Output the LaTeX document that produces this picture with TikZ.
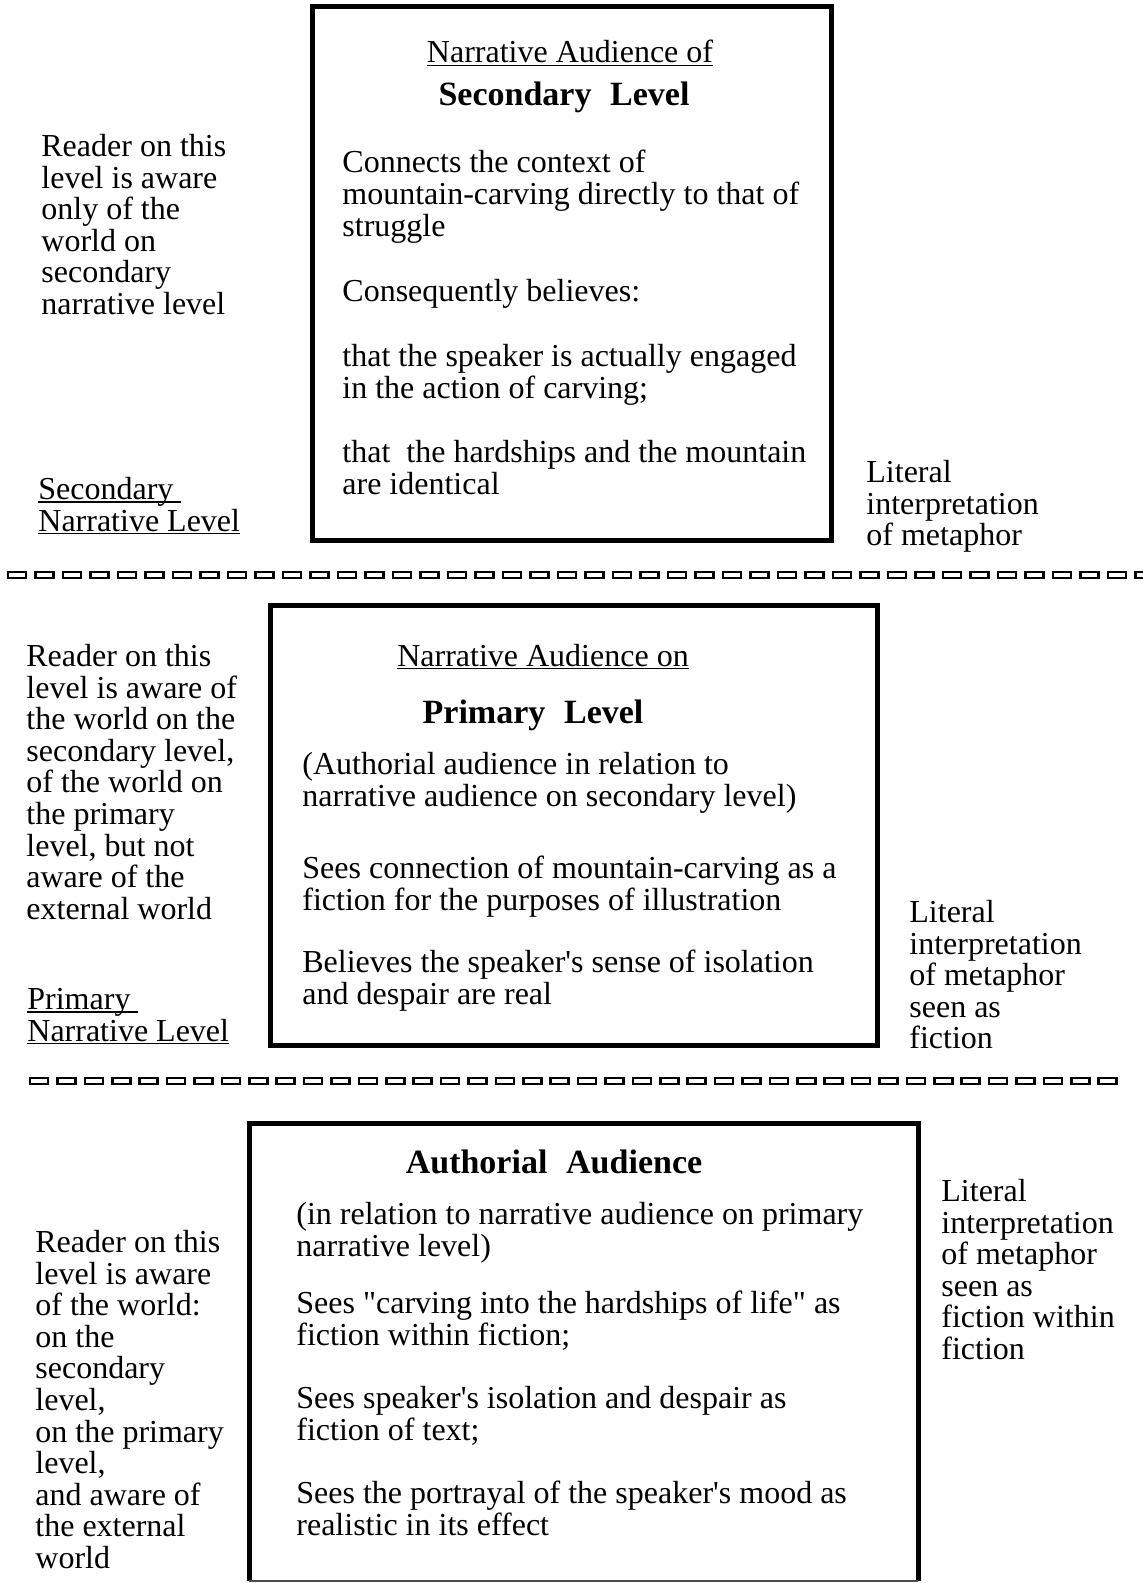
\documentclass[tikz,border=0pt]{standalone}
\usepackage{fontspec}
\setmainfont{Liberation Serif}
\newcommand\myul[1]{\setbox0\hbox{#1}\rlap{\rule[-1.7pt]{\wd0}{0.7pt}}\box0}
\begin{document}
\begin{tikzpicture}[x=0.5pt,y=-0.5pt]
\tikzset{
  txt/.style={anchor=north west, yshift=11.06pt, inner sep=0pt, align=left,
    font=\fontsize{16pt}{15.8pt}\selectfont, execute at begin node=\strut},
  ctr/.style={anchor=base, inner sep=0pt, font=\fontsize{16pt}{15.8pt}\selectfont},
  hd/.style={anchor=base, inner sep=0pt, font=\fontsize{17pt}{16pt}\selectfont\bfseries},
  frame/.style={line width=2.5pt},
  thinframe/.style={line width=1pt, black!70},
  dashbox/.style={line width=1.3pt}
}
\useasboundingbox[fill=white] (0,0) rectangle (1143,1583);

% ---------- Box 1 ----------
\draw[frame] (312,7) rectangle (831,540);
\node[ctr] (title1) at (570,63) {\myul{Narrative Audience of}};
\node[hd] (head1) at (564,106) {Secondary\hspace{0.55em}Level};
\node[txt] (p1a) at (342,172) {Connects the context of\\mountain-carving directly to that of\\struggle};
\node[txt] (p1b) at (342,301) {Consequently believes:};
\node[txt] (p1c) at (342,366) {that the speaker is actually engaged\\in the action of carving;};
\node[txt] (p1d) at (342,462) {that\ \ the hardships and the mountain\\are identical};
\node[txt] (left1) at (41,156) {Reader on this\\level is aware\\only of the\\world on\\secondary\\narrative level};
\node[txt] (lev1) at (38,499) {\myul{Secondary\ }\\\myul{Narrative Level}};
\node[txt] (right1) at (866,482) {Literal\\interpretation\\of metaphor};

% ---------- separator 1 ----------
\foreach \i in {0,...,41} {
  \draw[dashbox] ({8+\i*27.5},572) rectangle ++(18,6);
}

% ---------- Box 2 ----------
\draw[frame] (270,605) rectangle (877,1045);
\node[ctr] (title2) at (543,666) {\myul{Narrative Audience on}};
\node[hd] (head2) at (533,723) {Primary\hspace{0.55em}Level};
\node[txt] (p2a) at (302,774) {(Authorial audience in relation to\\narrative audience on secondary level)};
\node[txt] (p2b) at (302,878) {Sees connection of mountain-carving as a\\fiction for the purposes of illustration};
\node[txt] (p2c) at (302,972) {Believes the speaker\textquotesingle s sense of isolation\\and despair are real};
\node[txt] (left2) at (26,666) {Reader on this\\level is aware of\\the world on the\\secondary level,\\of the world on\\the primary\\level, but not\\aware of the\\external world};
\node[txt] (lev2) at (27,1010) {\myul{Primary\ }\\\myul{Narrative Level}};
\node[txt] (right2) at (909,922) {Literal\\interpretation\\of metaphor\\seen as\\fiction};

% ---------- separator 2 ----------
\foreach \i in {0,...,39} {
  \draw[dashbox] ({30+\i*27.4},1078) rectangle ++(18,6);
}

% ---------- Box 3 ----------
\draw[frame] (249,1581) -- (249,1123) -- (918,1123) -- (918,1581);
\draw[thinframe] (249,1581) -- (918,1581);
\node[hd] (head3) at (554,1173) {Authorial\hspace{0.55em}Audience};
\node[txt] (p3a) at (296,1224) {(in relation to narrative audience on primary\\narrative level)};
\node[txt] (p3b) at (296,1313) {Sees \textquotedbl carving into the hardships of life\textquotedbl{} as\\fiction within fiction;};
\node[txt] (p3c) at (296,1408) {Sees speaker\textquotesingle s isolation and despair as\\fiction of text;};
\node[txt] (p3d) at (296,1503) {Sees the portrayal of the speaker\textquotesingle s mood as\\realistic in its effect};
\node[txt] (left3) at (35,1252) {Reader on this\\level is aware\\of the world:\\on the\\secondary\\level,\\on the primary\\level,\\and aware of\\the external\\world};
\node[txt] (right3) at (941,1201) {Literal\\interpretation\\of metaphor\\seen as\\fiction within\\fiction};
\end{tikzpicture}
\end{document}
